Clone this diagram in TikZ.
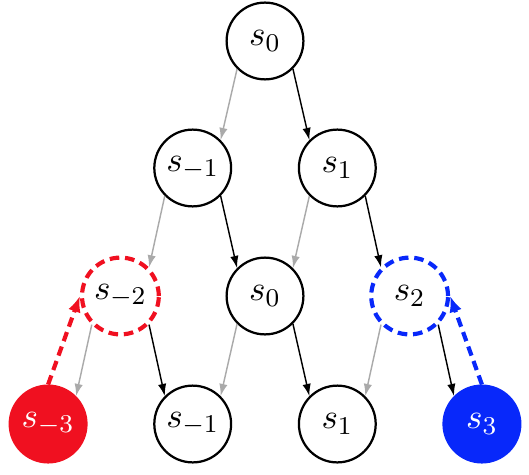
\documentclass[tikz,border=0pt]{standalone}
\usetikzlibrary{arrows.meta}
\definecolor{myred}{RGB}{240,16,32}
\definecolor{myblue}{RGB}{8,40,250}
\definecolor{lightarrow}{RGB}{170,170,170}
\begin{document}
\begin{tikzpicture}[x=0.3125pt,y=-0.3125pt,
  state/.style={circle,draw,line width=0.7pt,minimum size=24pt,inner sep=0pt,font=\fontsize{10.95}{13}\selectfont},
  redstate/.style={state,draw=myred,line width=1.3pt,dash pattern=on 3pt off 1.8pt},
  bluestate/.style={state,draw=myblue,line width=1.3pt,dash pattern=on 3pt off 1.8pt},
  redfill/.style={state,draw=myred,fill=myred,text=white},
  bluefill/.style={state,draw=myblue,fill=myblue,text=white},
  darr/.style={-{Latex[length=3.8pt,width=2.6pt]},line width=0.45pt,black},
  larr/.style={-{Latex[length=3.8pt,width=2.6pt]},line width=0.45pt,lightarrow},
  redarr/.style={-{Latex[length=5pt,width=4pt]},line width=1.3pt,myred,dash pattern=on 3pt off 1.8pt},
  bluearr/.style={-{Latex[length=5pt,width=4pt]},line width=1.3pt,myblue,dash pattern=on 3pt off 1.8pt}]
\useasboundingbox (0,0) rectangle (529,474);
% level 0
\node[state] (a0) at (265,41) {$s_0$};
% level 1
\node[state] (bm1) at (192.7,168) {$s_{-1}$};
\node[state] (b1) at (337.3,168) {$s_1$};
% level 2
\node[redstate] (cm2) at (120.4,296) {$s_{-2}$};
\node[state] (c0) at (265,296) {$s_0$};
\node[bluestate] (c2) at (409.6,296) {$s_2$};
% level 3
\node[redfill] (dm3) at (48.1,424) {$s_{-3}$};
\node[state] (dm1) at (192.7,424) {$s_{-1}$};
\node[state] (d1) at (337.3,424) {$s_1$};
\node[bluefill] (d3) at (481.9,424) {$s_3$};
% arrows
\draw[larr] (a0.south west) -- (bm1.north east);
\draw[darr] (a0.south east) -- (b1.north west);
\draw[larr] (bm1.south west) -- (cm2.north east);
\draw[darr] (bm1.south east) -- (c0.north west);
\draw[larr] (b1.south west) -- (c0.north east);
\draw[darr] (b1.south east) -- (c2.north west);
\draw[larr] (cm2.south west) -- (dm3.north east);
\draw[darr] (cm2.south east) -- (dm1.north west);
\draw[larr] (c0.south west) -- (dm1.north east);
\draw[darr] (c0.south east) -- (d1.north west);
\draw[larr] (c2.south west) -- (d1.north east);
\draw[darr] (c2.south east) -- (d3.north west);
\draw[redarr] (dm3.north) -- (cm2.west);
\draw[bluearr] (d3.north) -- (c2.east);
\end{tikzpicture}
\end{document}
